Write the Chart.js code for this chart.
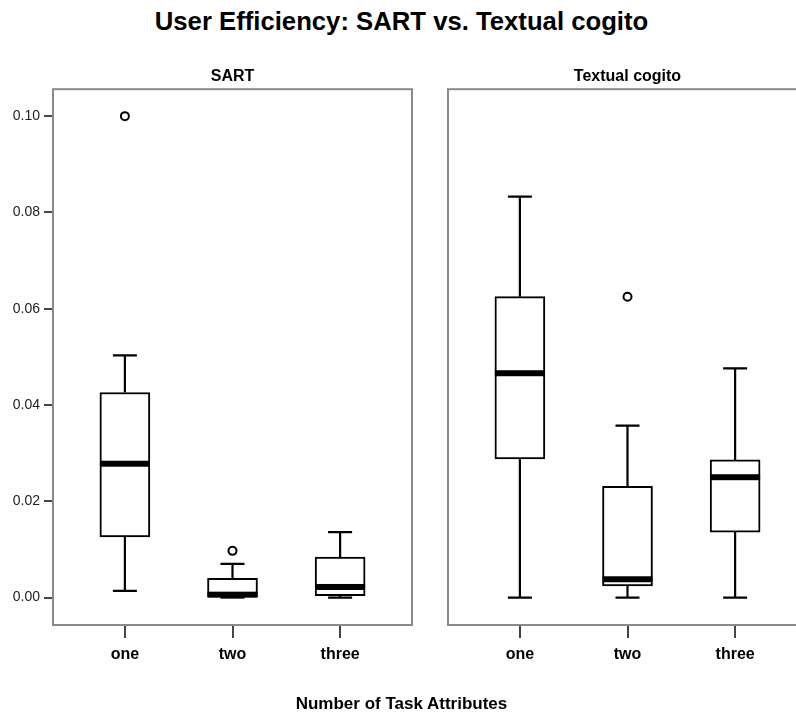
<!DOCTYPE html>
<html>
<head>
<meta charset="utf-8">
<script src="https://cdn.jsdelivr.net/npm/chart.js@4.4.1/dist/chart.umd.min.js"></script>
<style>
  html, body { margin: 0; padding: 0; background: #fff; }
  #page { position: relative; width: 796px; height: 716px; overflow: hidden; background: #fff; }
  canvas { position: absolute; top: 0; }
  #sart { left: 0; }
  #textual { left: 395px; }
  .label { position: absolute; left: 0; width: 803px; text-align: center; font-family: "Liberation Sans", Arial, sans-serif; font-weight: bold; color: #000; white-space: nowrap; }
  #mainTitle { top: 6px; font-size: 25.7px; line-height: 30px; }
  #xTitle { top: 694px; font-size: 17px; line-height: 20px; }
</style>
</head>
<body>
<div id="page">
  <div id="mainTitle" class="label">User Efficiency: SART vs. Textual cogito</div>
  <canvas id="sart" width="420" height="716"></canvas>
  <canvas id="textual" width="420" height="716"></canvas>
  <div id="xTitle" class="label">Number of Task Attributes</div>
</div>
<script>
// categories on the x axis (number of task attributes)
const categories = ['one', 'two', 'three'];
const yTicks = [0.00, 0.02, 0.04, 0.06, 0.08, 0.10];

// SART boxplot stats
const sartLow = [0.0014, 0.0000, 0.0000];
const sartQ1 = [0.0126, 0.0000, 0.0004];
const sartMedian = [0.0278, 0.0006, 0.0022];
const sartQ3 = [0.0426, 0.0040, 0.0084];
const sartHigh = [0.0503, 0.0070, 0.0136];
const sartOutliers = [[0.1000], [0.0097], []];

// Textual cogito boxplot stats
const textLow = [0.0000, 0.0000, 0.0000];
const textQ1 = [0.0288, 0.0024, 0.0136];
const textMedian = [0.0466, 0.0038, 0.0250];
const textQ3 = [0.0625, 0.0231, 0.0286];
const textHigh = [0.0833, 0.0357, 0.0476];
const textOutliers = [[], [0.0625], []];

const FONT = '"Liberation Sans", Arial, sans-serif';

// frame around the plot area
const framePlugin = {
  id: 'frame',
  beforeDatasetsDraw(chart) {
    const { ctx, chartArea: a } = chart;
    ctx.save();
    ctx.strokeStyle = '#8a8a8a';
    ctx.lineWidth = 2;
    ctx.strokeRect(a.left, a.top, a.right - a.left, a.bottom - a.top);
    ctx.restore();
  }
};

// whiskers + median lines, positioned through the chart scales
const boxPlugin = {
  id: 'boxParts',
  beforeDatasetsDraw(chart, args, opts) {
    const { ctx, scales: { x, y } } = chart;
    ctx.save();
    ctx.strokeStyle = '#000';
    ctx.lineWidth = 2.2;
    opts.low.forEach((lo, i) => {
      const px = x.getPixelForValue(i);
      const segs = [[opts.q1[i], lo], [opts.q3[i], opts.high[i]]];
      segs.forEach(([from, to]) => {
        const p1 = y.getPixelForValue(from);
        const p2 = y.getPixelForValue(to);
        ctx.beginPath();
        ctx.moveTo(px, p1);
        ctx.lineTo(px, p2);
        ctx.moveTo(px - 12, p2);
        ctx.lineTo(px + 12, p2);
        ctx.stroke();
      });
    });
    ctx.restore();
  },
  afterDatasetsDraw(chart, args, opts) {
    const { ctx, scales: { x, y } } = chart;
    ctx.save();
    ctx.fillStyle = '#000';
    opts.median.forEach((m, i) => {
      const px = x.getPixelForValue(i);
      const py = y.getPixelForValue(m);
      ctx.fillRect(px - 25, py - 3, 50, 6);
    });
    ctx.restore();
  }
};

function makePanel(id, title, low, q1, median, q3, high, outliers, showY) {
  const boxes = categories.map((c, i) => ({ x: i, y: [q1[i], q3[i]] }));
  const points = [];
  outliers.forEach((list, i) => list.forEach(v => points.push({ x: i, y: v })));

  return new Chart(document.getElementById(id), {
    type: 'bar',
    data: {
      datasets: [
        {
          type: 'bar',
          data: boxes,
          backgroundColor: '#fff',
          borderColor: '#000',
          borderWidth: 2,
          borderSkipped: false,
          barThickness: 50,
          order: 2
        },
        {
          type: 'scatter',
          data: points,
          pointRadius: 4,
          pointBorderWidth: 2,
          borderColor: '#000',
          backgroundColor: '#fff',
          order: 1
        }
      ]
    },
    options: {
      responsive: false,
      animation: false,
      devicePixelRatio: 1,
      layout: { padding: { top: 67, right: 8, bottom: 51, left: 0 } },
      plugins: {
        legend: { display: false },
        tooltip: { enabled: false },
        title: {
          display: true,
          text: title,
          fullSize: false,
          color: '#000',
          font: { family: FONT, size: 16, weight: 'bold', lineHeight: 1.2 },
          padding: { top: 0, bottom: 3 }
        },
        boxParts: { low, q1, median, q3, high }
      },
      scales: {
        x: {
          type: 'linear',
          min: -0.668,
          max: 2.668,
          offset: false,
          afterFit: s => { s.height = 40; },
          afterBuildTicks: s => { s.ticks = categories.map((c, i) => ({ value: i })); },
          border: { display: false },
          grid: { offset: false, drawOnChartArea: false, drawTicks: true, tickLength: 13, color: '#444', lineWidth: 2 },
          ticks: {
            padding: 7,
            color: '#000',
            font: { family: FONT, size: 16, weight: 'bold' },
            callback: v => categories[v]
          }
        },
        y: {
          min: -0.0057,
          max: 0.1056,
          afterFit: s => { s.width = 53; },
          afterBuildTicks: s => { s.ticks = yTicks.map(v => ({ value: v })); },
          border: { display: false },
          grid: { display: showY, drawOnChartArea: false, drawTicks: true, tickLength: 9, color: '#444', lineWidth: 2 },
          ticks: {
            display: showY,
            padding: 4,
            color: '#222',
            font: { family: FONT, size: 14 },
            callback: v => v.toFixed(2)
          }
        }
      }
    },
    plugins: [framePlugin, boxPlugin]
  });
}

makePanel('sart', 'SART', sartLow, sartQ1, sartMedian, sartQ3, sartHigh, sartOutliers, true);
makePanel('textual', 'Textual cogito', textLow, textQ1, textMedian, textQ3, textHigh, textOutliers, false);
</script>
</body>
</html>
